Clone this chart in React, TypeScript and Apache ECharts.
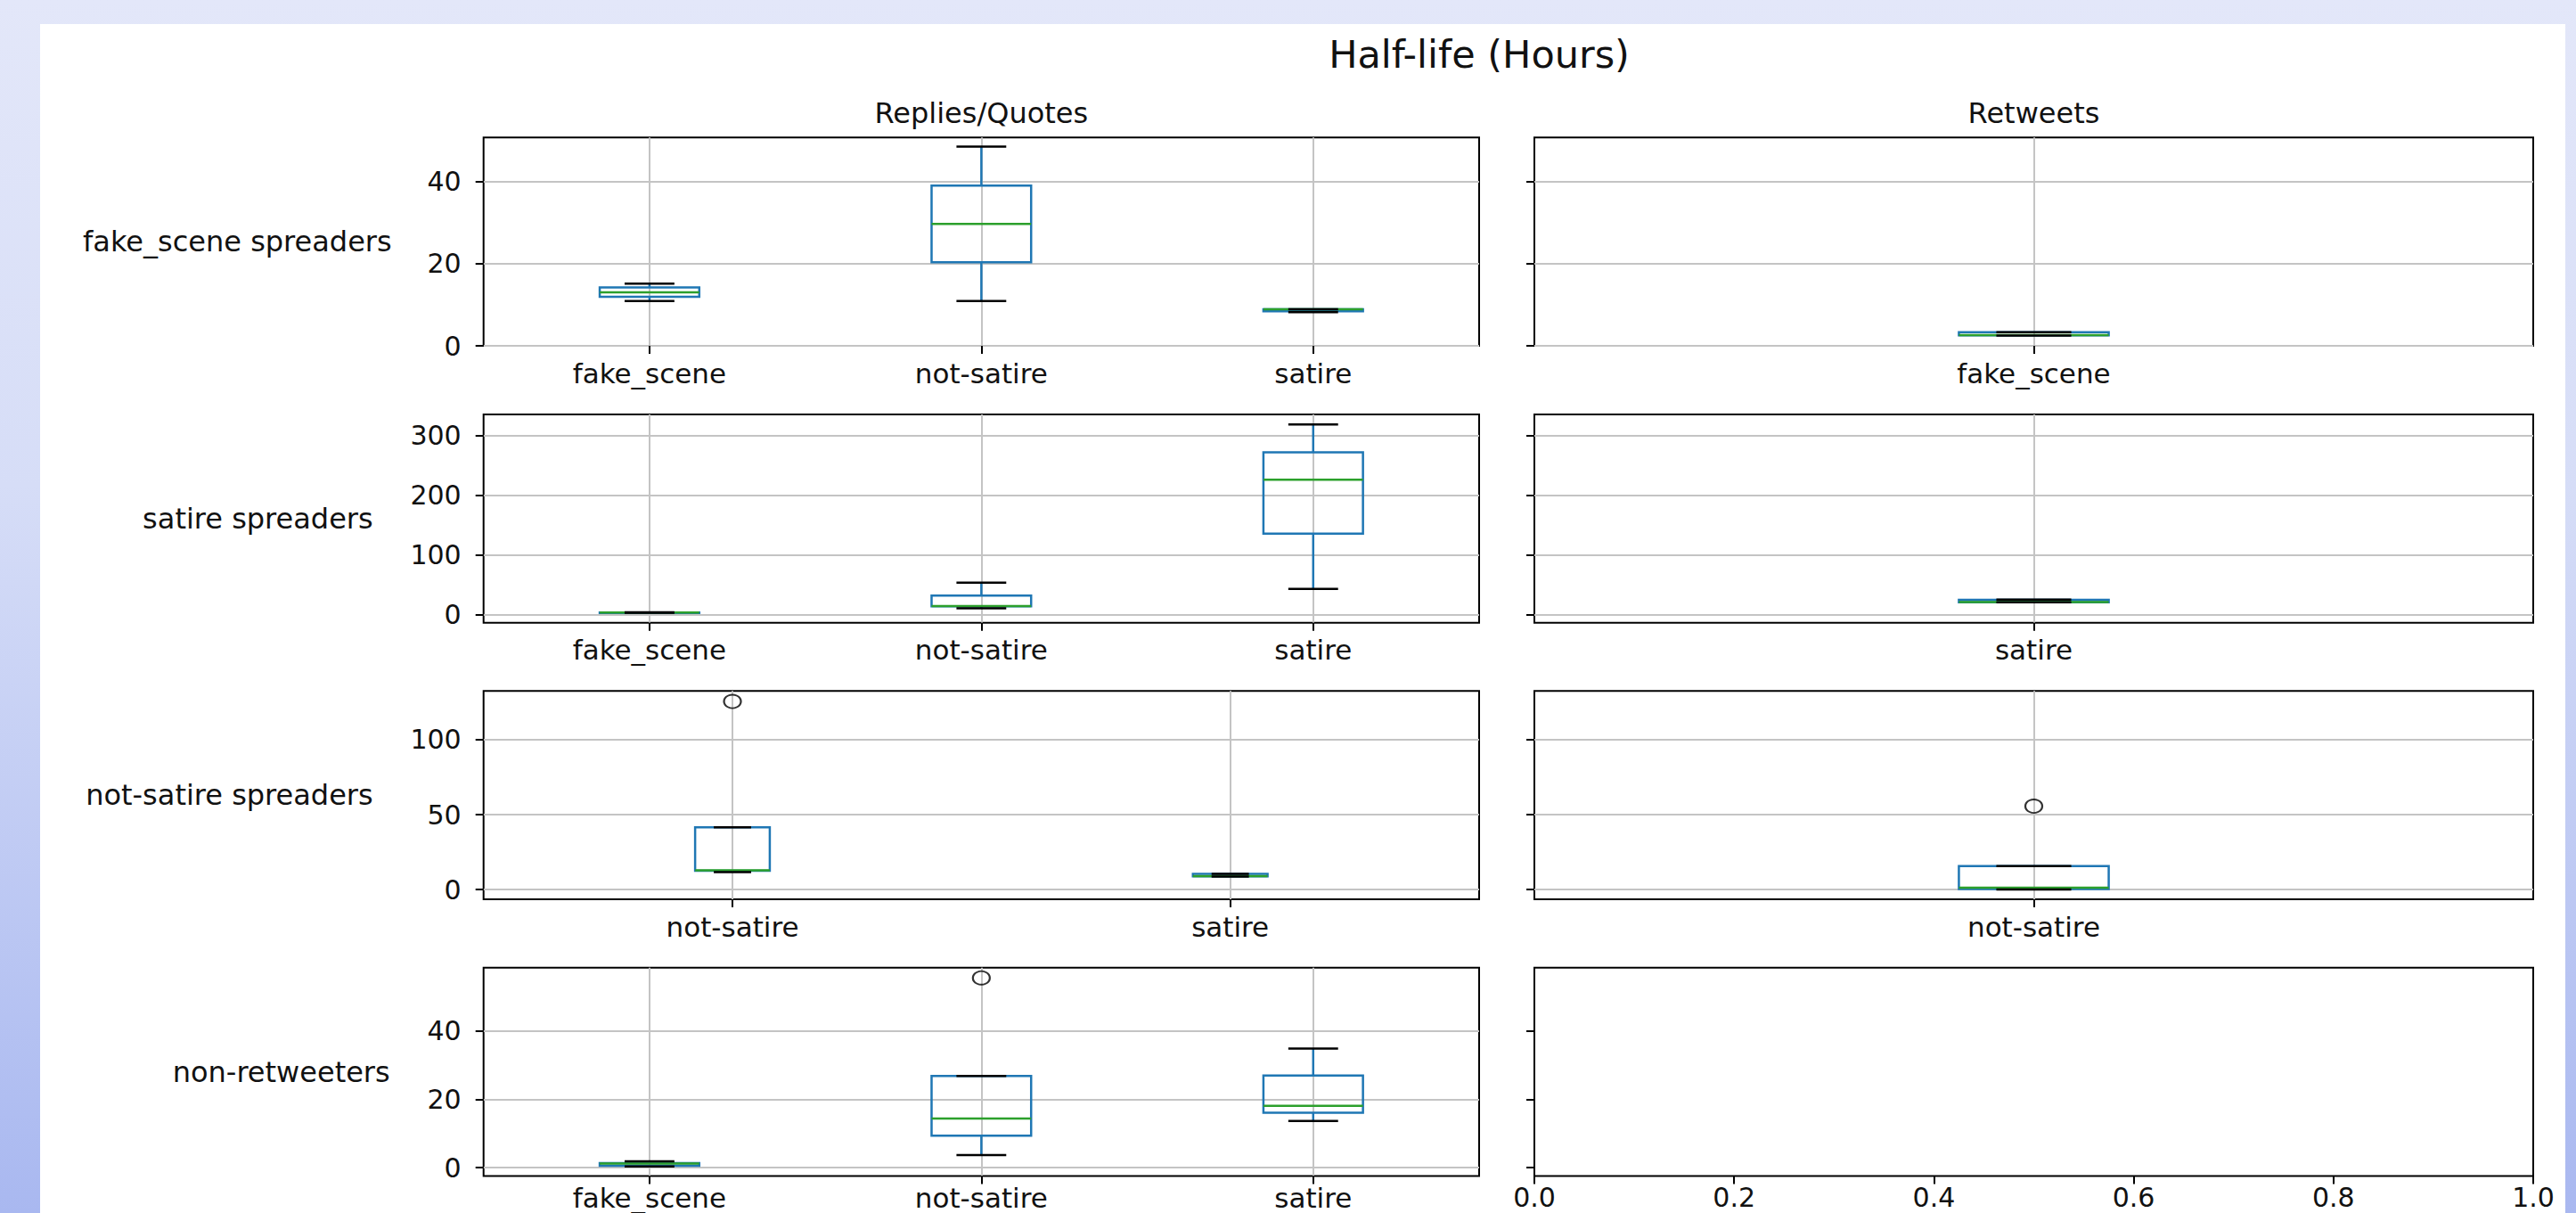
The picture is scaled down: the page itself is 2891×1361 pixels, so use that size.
import React, { useEffect, useRef } from "react";
import * as echarts from "echarts";

// ---------- texts ----------
const SUPTITLE = "Half-life (Hours)";
const COL_TITLES = ["Replies/Quotes", "Retweets"];
const ROW_LABELS = ["fake_scene spreaders", "satire spreaders", "not-satire spreaders", "non-retweeters"];

// ---------- data: boxes are [lowWhisker, q1, median, q3, highWhisker] ----------
// Row 1: fake_scene spreaders
const fakeSceneRepliesCats = ["fake_scene", "not-satire", "satire"];
const fakeSceneRepliesBoxes = [
  [10.9, 11.9, 13.0, 14.2, 15.1],
  [10.9, 20.3, 29.6, 38.9, 48.4],
  [8.2, 8.4, 8.9, 8.9, 8.9],
];
const fakeSceneRetweetsCats = ["fake_scene"];
const fakeSceneRetweetsBoxes = [[2.5, 2.55, 2.6, 3.3, 3.3]];

// Row 2: satire spreaders
const satireRepliesCats = ["fake_scene", "not-satire", "satire"];
const satireRepliesBoxes = [
  [3.6, 3.8, 4.0, 4.2, 4.4],
  [11.0, 14.5, 15.0, 32.4, 54.0],
  [43.5, 135.8, 225.8, 271.8, 318.3],
];
const satireRetweetsCats = ["satire"];
const satireRetweetsBoxes = [[21.0, 21.3, 21.5, 25.3, 25.6]];

// Row 3: not-satire spreaders
const notSatireRepliesCats = ["not-satire", "satire"];
const notSatireRepliesBoxes = [
  [11.6, 12.5, 12.9, 41.5, 41.5],
  [8.6, 8.8, 8.9, 10.4, 10.4],
];
const notSatireRepliesOutliers = [[0, 125.5]];
const notSatireRetweetsCats = ["not-satire"];
const notSatireRetweetsBoxes = [[0.1, 0.4, 1.2, 15.7, 15.7]];
const notSatireRetweetsOutliers = [[0, 55.6]];

// Row 4: non-retweeters
const nonRetweetersRepliesCats = ["fake_scene", "not-satire", "satire"];
const nonRetweetersRepliesBoxes = [
  [0.35, 0.6, 1.2, 1.35, 1.9],
  [3.7, 9.4, 14.4, 26.9, 26.9],
  [13.7, 16.1, 18.1, 27.0, 34.9],
];
const nonRetweetersRepliesOutliers = [[1, 55.6]];

// ---------- axes ----------
const rowYMin = [0, -13, -6.5, -2.4];
const rowYMax = [50.6, 335, 132.5, 58.6];
const rowYTicks = [
  [0, 20, 40],
  [0, 100, 200, 300],
  [0, 50, 100],
  [0, 20, 40],
];
const emptyPanelXMin = 0;
const emptyPanelXMax = 1;
const emptyPanelXStep = 0.2;

// ---------- layout / style ----------
const FONT = "DejaVu Sans";
const TEXT_COLOR = "#111";
const BLUE = "#1f77b4";
const GREEN = "#2ca02c";
const GRID_COLOR = "#c4c4c4";
const LW = 2.5;
const FS_NUM = 30;
const FS_TXT = 32;
const FS_XLAB = 31;

const GRID_LEFT = [542.7, 1722];
const GRID_WIDTH = [1117.3, 1121];
const GRID_TOP = [154.3, 465, 775.3, 1085.7];
const GRID_HEIGHT = 233.7;
const NAME_GAP = [103, 124, 124, 105];
const X_LABEL_MARGIN = [15, 15, 15, 9];

type Panel = {
  row: number;
  col: number;
  cats: string[] | null;
  boxes: number[][];
  outliers: number[][];
};

const panels: Panel[] = [
  { row: 0, col: 0, cats: fakeSceneRepliesCats, boxes: fakeSceneRepliesBoxes, outliers: [] },
  { row: 0, col: 1, cats: fakeSceneRetweetsCats, boxes: fakeSceneRetweetsBoxes, outliers: [] },
  { row: 1, col: 0, cats: satireRepliesCats, boxes: satireRepliesBoxes, outliers: [] },
  { row: 1, col: 1, cats: satireRetweetsCats, boxes: satireRetweetsBoxes, outliers: [] },
  { row: 2, col: 0, cats: notSatireRepliesCats, boxes: notSatireRepliesBoxes, outliers: notSatireRepliesOutliers },
  { row: 2, col: 1, cats: notSatireRetweetsCats, boxes: notSatireRetweetsBoxes, outliers: notSatireRetweetsOutliers },
  { row: 3, col: 0, cats: nonRetweetersRepliesCats, boxes: nonRetweetersRepliesBoxes, outliers: nonRetweetersRepliesOutliers },
  { row: 3, col: 1, cats: null, boxes: [], outliers: [] },
];

function makeRenderItem(frac: number, fallbackBand: number) {
  return (params: any, api: any) => {
    const c = api.value(0);
    const lo = api.value(1);
    const q1 = api.value(2);
    const med = api.value(3);
    const q3 = api.value(4);
    const hi = api.value(5);
    const x = api.coord([c, med])[0];
    let band = api.size ? api.size([1, 0])[0] : NaN;
    if (!isFinite(band) || band <= 0) band = fallbackBand;
    const hw = (band * frac) / 2;
    const y = (v: number) => api.coord([c, v])[1];
    const yLo = y(lo);
    const yQ1 = y(q1);
    const yMed = y(med);
    const yQ3 = y(q3);
    const yHi = y(hi);
    return {
      type: "group",
      children: [
        { type: "line", shape: { x1: x, y1: yQ1, x2: x, y2: yLo }, style: { stroke: BLUE, lineWidth: LW } },
        { type: "line", shape: { x1: x, y1: yQ3, x2: x, y2: yHi }, style: { stroke: BLUE, lineWidth: LW } },
        {
          type: "rect",
          shape: { x: x - hw, y: yQ3, width: 2 * hw, height: Math.max(yQ1 - yQ3, 0.5) },
          style: { fill: "none", stroke: BLUE, lineWidth: LW },
        },
        { type: "line", shape: { x1: x - hw, y1: yMed, x2: x + hw, y2: yMed }, style: { stroke: GREEN, lineWidth: LW } },
        { type: "line", shape: { x1: x - hw / 2, y1: yLo, x2: x + hw / 2, y2: yLo }, style: { stroke: "#000", lineWidth: LW } },
        { type: "line", shape: { x1: x - hw / 2, y1: yHi, x2: x + hw / 2, y2: yHi }, style: { stroke: "#000", lineWidth: LW } },
      ],
    };
  };
}

function buildOption() {
  const grid: any[] = [];
  const xAxis: any[] = [];
  const yAxis: any[] = [];
  const series: any[] = [];
  const numStyle = { fontSize: FS_NUM, fontFamily: FONT, color: TEXT_COLOR };
  const xLabStyle = { fontSize: FS_XLAB, fontFamily: FONT, color: TEXT_COLOR };
  const txtStyle = { fontSize: FS_TXT, fontFamily: FONT, color: TEXT_COLOR };
  const tickStyle = { color: "#000", width: 2 };

  panels.forEach((p, i) => {
    grid.push({
      left: GRID_LEFT[p.col],
      top: GRID_TOP[p.row],
      width: GRID_WIDTH[p.col],
      height: GRID_HEIGHT,
      show: true,
      borderColor: "#000",
      borderWidth: 2,
      backgroundColor: "transparent",
      containLabel: false,
      outerBoundsMode: "none",
    });

    if (p.cats) {
      xAxis.push({
        type: "category",
        gridIndex: i,
        data: p.cats,
        boundaryGap: true,
        axisLine: { show: false, onZero: false },
        axisTick: { show: true, alignWithLabel: true, length: 9, lineStyle: tickStyle },
        axisLabel: { show: true, interval: 0, margin: X_LABEL_MARGIN[p.row], ...xLabStyle },
        splitLine: { show: true, alignWithLabel: true, lineStyle: { color: GRID_COLOR, width: 2 } },
      });
    } else {
      xAxis.push({
        type: "value",
        gridIndex: i,
        min: emptyPanelXMin,
        max: emptyPanelXMax,
        interval: emptyPanelXStep,
        axisLine: { show: false, onZero: false },
        axisTick: { show: true, length: 9, lineStyle: tickStyle },
        axisLabel: {
          show: true,
          margin: X_LABEL_MARGIN[p.row],
          formatter: (v: number) => v.toFixed(1),
          ...numStyle,
        },
        splitLine: { show: false },
      });
    }

    const ticks = rowYTicks[p.row];
    yAxis.push({
      type: "value",
      gridIndex: i,
      min: rowYMin[p.row],
      max: rowYMax[p.row],
      axisLine: { show: false },
      axisTick: { show: true, length: 9, lineStyle: tickStyle, customValues: ticks },
      axisLabel: { show: p.col === 0, margin: 25, customValues: ticks, ...numStyle },
      splitLine: { show: !!p.cats, lineStyle: { color: GRID_COLOR, width: 2 } },
      name: p.col === 0 ? ROW_LABELS[p.row] : "",
      nameLocation: "middle",
      nameRotate: 0,
      nameGap: NAME_GAP[p.row],
      nameTextStyle: { ...txtStyle },
    });

    if (p.cats && p.boxes.length) {
      const n = p.cats.length;
      const frac = Math.min(0.15 * Math.max(n - 1, 1), 0.5);
      series.push({
        type: "custom",
        xAxisIndex: i,
        yAxisIndex: i,
        renderItem: makeRenderItem(frac, GRID_WIDTH[p.col] / n),
        encode: { x: 0, y: [1, 2, 3, 4, 5] },
        data: p.boxes.map((b, idx) => [idx, ...b]),
        z: 3,
        silent: true,
      });
    }
    if (p.outliers.length) {
      series.push({
        type: "scatter",
        xAxisIndex: i,
        yAxisIndex: i,
        data: p.outliers,
        symbol: "circle",
        symbolSize: [19, 15],
        itemStyle: { color: "rgba(0,0,0,0)", borderColor: "#000", borderWidth: 2 },
        z: 4,
        silent: true,
      });
    }
  });

  const graphic: any[] = [
    {
      type: "text",
      x: 1660,
      y: 60.6,
      style: {
        text: SUPTITLE,
        fill: TEXT_COLOR,
        fontSize: 43,
        fontFamily: FONT,
        align: "center",
        verticalAlign: "middle",
        textAlign: "center",
        textVerticalAlign: "middle",
      },
    },
    ...COL_TITLES.map((t, c) => ({
      type: "text",
      x: GRID_LEFT[c] + GRID_WIDTH[c] / 2,
      y: 127,
      style: {
        text: t,
        fill: TEXT_COLOR,
        fontSize: FS_TXT,
        fontFamily: FONT,
        align: "center",
        verticalAlign: "middle",
        textAlign: "center",
        textVerticalAlign: "middle",
      },
    })),
  ];

  return {
    animation: false,
    backgroundColor: "transparent",
    textStyle: { fontFamily: FONT },
    grid,
    xAxis,
    yAxis,
    series,
    graphic,
  };
}

export default function App() {
  const ref = useRef<HTMLDivElement>(null);
  useEffect(() => {
    if (!ref.current) return;
    const chart = echarts.init(ref.current, null, { renderer: "svg" });
    chart.setOption(buildOption() as any);
    return () => chart.dispose();
  }, []);
  return (
    <div
      style={{
        position: "fixed",
        left: 0,
        top: 0,
        width: 2891,
        height: 1361,
        overflow: "hidden",
        background: "linear-gradient(180deg, #e3e7f9 0%, #d6ddf7 40%, #a9b8f0 100%)",
      }}
    >
      <div style={{ position: "absolute", left: 45, top: 27, width: 2834, height: 1334, background: "#fff" }} />
      <div ref={ref} style={{ position: "absolute", left: 0, top: 0, width: 2891, height: 1361 }} />
    </div>
  );
}
